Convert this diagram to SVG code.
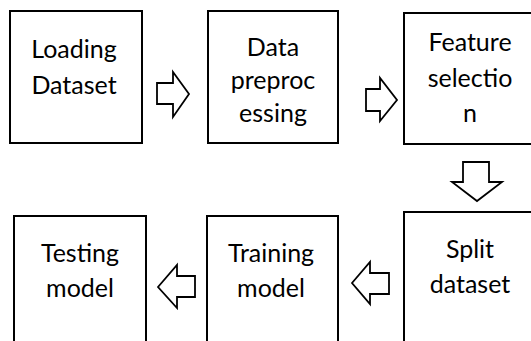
<svg xmlns="http://www.w3.org/2000/svg" width="531" height="341" viewBox="0 0 531 341">
<style>
.box{fill:#fff;stroke:#000;stroke-width:2}
.arr{fill:#fff;stroke:#000;stroke-width:1.8;stroke-linejoin:miter}
text{font-family:Lato,"Open Sans",sans-serif;font-size:25px;fill:#000;text-anchor:middle}
</style>
<rect width="531" height="341" fill="#fff"/>
<g id="connectors">
<polygon class="arr" points="157,83 173,83 173,72 189,94 173,117 173,104 157,104"/>
<polygon class="arr" points="366,89 380,89 380,78 397,100 380,121 380,111 366,111"/>
<polygon class="arr" points="463,162 489,162 489,182 502,182 477,201 452,182 463,182"/>
<polygon class="arr" points="352,283 370,262 370,273 389,273 389,294 370,294 370,304"/>
<polygon class="arr" points="158,287 177,265 177,276 195,276 195,297 177,297 177,308"/>
</g>
<g id="loading">
<rect class="box" x="10" y="11" width="132" height="132"/>
<text x="74" y="58">Loading</text>
<text x="74" y="94">Dataset</text>
</g>
<g id="preprocessing">
<rect class="box" x="208" y="11" width="130" height="132"/>
<text x="273" y="56">Data</text>
<text x="273" y="89">preproc</text>
<text x="273" y="122">essing</text>
</g>
<g id="feature">
<rect class="box" x="404" y="13" width="132" height="131"/>
<text x="470" y="51">Feature</text>
<text x="470" y="87">selectio</text>
<text x="470" y="122">n</text>
</g>
<g id="split">
<rect class="box" x="404" y="212" width="132" height="140"/>
<text x="470" y="258">Split</text>
<text x="470" y="293">dataset</text>
</g>
<g id="training">
<rect class="box" x="207" y="216" width="131" height="140"/>
<text x="271" y="262">Training</text>
<text x="271" y="297">model</text>
</g>
<g id="testing">
<rect class="box" x="14" y="216" width="132" height="140"/>
<text x="80" y="262">Testing</text>
<text x="80" y="297">model</text>
</g>
</svg>
